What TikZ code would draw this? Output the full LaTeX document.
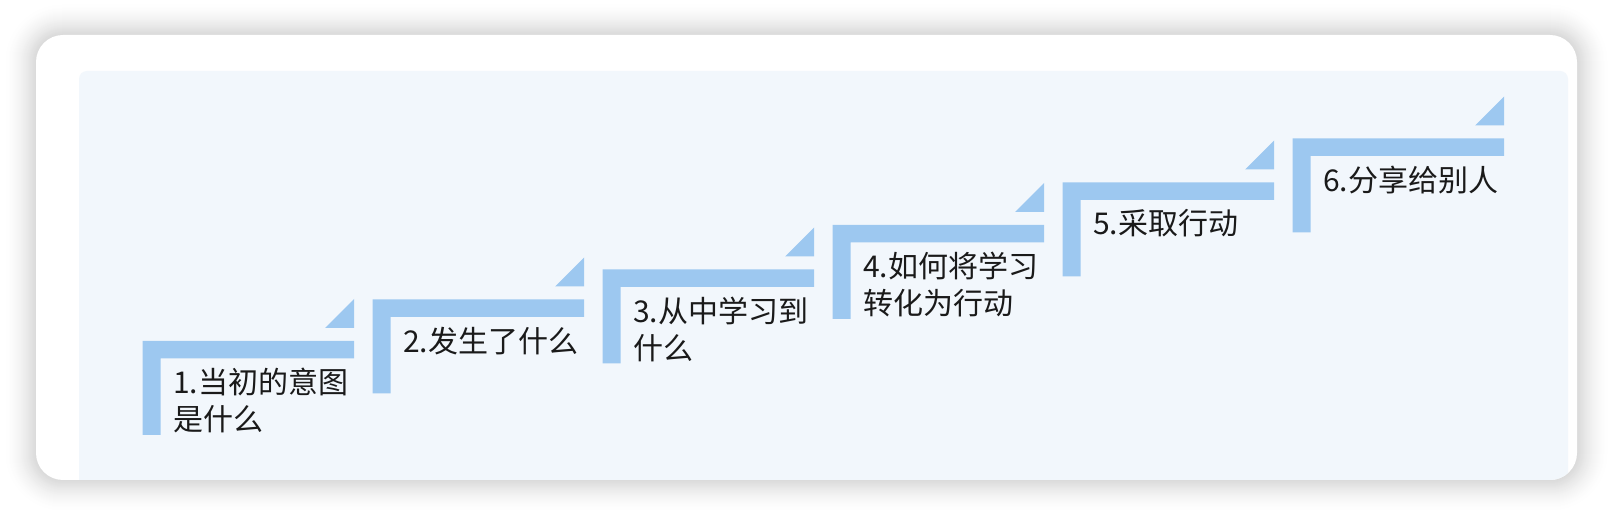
\documentclass[tikz,border=0pt]{standalone}
\usepackage{fontspec}
\setmainfont{Noto Sans CJK SC}
\definecolor{stBlue}{HTML}{9DC8F0}
\definecolor{stPanel}{HTML}{F2F7FC}
\definecolor{stInk}{HTML}{1A1A1A}
\tikzset{
  st card/.style={fill=white, rounded corners=13.5pt},
  st panel/.style={fill=stPanel, rounded corners=4pt},
  st bar/.style={fill=stBlue},
  st flag/.style={fill=stBlue},
  st label/.style={
    font=\fontsize{15}{18.5}\selectfont,
    text=stInk,
    align=left,
    anchor=north west,
    inner sep=0pt
  }
}
\begin{document}
\begin{tikzpicture}[x=0.5pt,y=-0.5pt]
  \useasboundingbox (0,0) rectangle (1614,518);
  \fill[white] (0,0) rectangle (1614,518);

  \foreach \d in {31,30,...,1} {
    \pgfmathsetmacro{\shade}{15*(1-\d/32)^1.6}
    \pgfmathsetmacro{\rad}{13.5+0.5*\d}
    \fill[black!\shade, rounded corners=\rad pt] (36-\d,35-\d) rectangle (1577+\d,480+\d);
  }
  \path[st card] (36,35) rectangle (1577,480);
  \begin{scope}
    \clip[rounded corners=13.5pt] (36,35) rectangle (1577,480);
    \path[st panel] (79,71) rectangle (1568,500);
  \end{scope}

  \foreach \i/\top/\txt in {0/341/{1.当初的意图\\是什么},
                            1/299.3/{2.发生了什么},
                            2/269.3/{3.从中学习到\\什么},
                            3/225/{4.如何将学习\\转化为行动},
                            4/182.3/{5.采取行动},
                            5/138.3/{6.分享给别人}} {
    \pgfmathsetmacro{\x}{142.7+230*\i}
    \path[st bar] (\x,\top) -- ++(211.5,0) -- ++(0,17.5) -- ++(-193.5,0)
      -- ++(0,76.5) -- ++(-18,0) -- cycle;
    \path[st flag] (\x+211.5,\top-13) -- ++(0,-29) -- ++(-29,29) -- cycle;
    \node[st label] (step\i) at (\x+30,\top+27) {\txt};
  }
\end{tikzpicture}
\end{document}
